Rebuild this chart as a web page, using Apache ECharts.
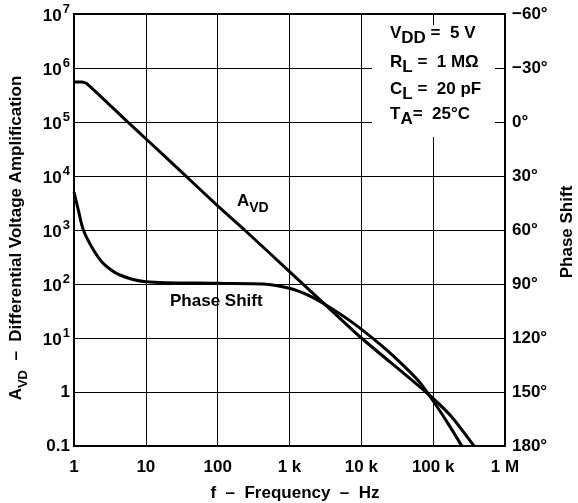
<!DOCTYPE html>
<html>
<head>
<meta charset="utf-8">
<script src="https://cdn.jsdelivr.net/npm/echarts@6/dist/echarts.min.js"></script>
<style>
html,body{margin:0;padding:0;background:#fff;}
#chart{width:578px;height:503px;}
</style>
</head>
<body>
<div id="chart"></div>
<script>
// ---- data ----
const avdFreq = [1, 1.3, 1.55, 5.6, 10, 30, 100, 237, 1000, 3600, 10000, 79000, 178000, 370000];
const avdGain = [5.5e5, 5.5e5, 5.0e5, 1e5, 4.9e4, 1.26e4, 2.8e3, 1e3, 170, 35, 10, 1, 0.355, 0.1];

const phaseFreq = [1, 1.15, 1.35, 1.86, 2.55, 4.36, 10, 95, 426, 1000, 2000, 4000, 7900, 15800, 31600, 63100, 100000, 158000, 251000];
const phaseDeg  = [39, 49, 60, 71, 78.5, 85, 88.7, 89.6, 90, 92.4, 97, 104, 112, 121.5, 132, 144, 155, 167, 180];

const xTickLabels = {0: '1', 1: '10', 2: '100', 3: '1 k', 4: '10 k', 5: '100 k', 6: '1 M'};
const phaseMin = -60, phaseMax = 180, phaseStep = 30;

const FONT = '"Liberation Sans", Arial, Helvetica, sans-serif';
const chart = echarts.init(document.getElementById('chart'), null, {renderer: 'canvas'});

const baseRich = {
  b: {fontSize: 17, fontWeight: 'bold', fontFamily: FONT, color: '#000', verticalAlign: 'bottom'},
  s: {fontSize: 13, fontWeight: 'bold', fontFamily: FONT, color: '#000', verticalAlign: 'bottom', padding: [0, 0, 9, 1]},
  sub: {fontSize: 13, fontWeight: 'bold', fontFamily: FONT, color: '#000', verticalAlign: 'bottom'},
  subBig: {fontSize: 17, fontWeight: 'bold', fontFamily: FONT, color: '#000', verticalAlign: 'bottom'},
  m: {fontSize: 17, fontWeight: 'bold', fontFamily: FONT, color: '#000', verticalAlign: 'bottom', padding: [0, 0, 5, 0]}
};
const condRich = {b: baseRich.m, sub: baseRich.subBig, m: baseRich.m};

function zip(a, b) { return a.map((v, i) => [v, b[i]]); }

const option = {
  animation: false,
  backgroundColor: '#fff',
  grid: {left: 74, right: 73, top: 14, bottom: 57, show: true, borderColor: '#000', borderWidth: 2, backgroundColor: 'transparent'},
  xAxis: {
    type: 'log', logBase: 10, min: 1, max: 1e6, splitNumber: 6,
    axisLine: {show: true, onZero: false, lineStyle: {color: '#000', width: 2}},
    axisTick: {show: false},
    splitLine: {show: true, lineStyle: {color: '#000', width: 1}},
    axisLabel: {
      margin: 13, color: '#000', fontSize: 17, fontWeight: 'bold', fontFamily: FONT,
      formatter: v => { const e = Math.round(Math.log10(v)); return xTickLabels[e] || ''; }
    }
  },
  yAxis: [{
    type: 'log', logBase: 10, min: 0.1, max: 1e7, splitNumber: 8,
    axisLine: {show: true, onZero: false, lineStyle: {color: '#000', width: 2}},
    axisTick: {show: false},
    splitLine: {show: true, lineStyle: {color: '#000', width: 1}},
    axisLabel: {
      margin: 4, color: '#000', fontSize: 17, fontWeight: 'bold', fontFamily: FONT,
      formatter: v => {
        const e = Math.round(Math.log10(v));
        if (e === -1) return '{b|0.1}';
        if (e === 0) return '{b|1}';
        return '{b|10}{s|' + e + '}';
      },
      rich: baseRich
    }
  }, {
    type: 'value', inverse: true, min: phaseMin, max: phaseMax, interval: phaseStep, position: 'right',
    axisLine: {show: true, onZero: false, lineStyle: {color: '#000', width: 2}},
    axisTick: {show: false},
    splitLine: {show: false},
    axisLabel: {
      margin: 7, color: '#000', fontSize: 17, fontWeight: 'bold', fontFamily: FONT,
      formatter: v => (v < 0 ? '\u2212' + Math.abs(v) : v) + '\u00b0'
    }
  }],
  graphic: [
    // blank area behind the conditions block
    {type: 'rect', z: 5, shape: {x: 372, y: 25, width: 123, height: 112}, style: {fill: '#fff'}},
    {type: 'text', z: 6, left: 390, top: 25, style: {text: '{b|V}{sub|DD}{m| =  5 V}', rich: condRich}},
    {type: 'text', z: 6, left: 390, top: 54, style: {text: '{b|R}{sub|L}{m| =  1 M\u03a9}', rich: condRich}},
    {type: 'text', z: 6, left: 390, top: 81, style: {text: '{b|C}{sub|L}{m| =  20 pF}', rich: condRich}},
    {type: 'text', z: 6, left: 390, top: 106, style: {text: '{b|T}{sub|A}{m|=  25\u00b0C}', rich: condRich}},
    // curve labels
    {type: 'text', z: 6, left: 237, top: 193, style: {text: '{b|A}{sub|VD}', rich: {b: baseRich.m, sub: {fontSize: 14, fontWeight: 'bold', fontFamily: FONT, color: '#000', verticalAlign: 'bottom'}}}},
    {type: 'text', z: 6, left: 170, top: 293, style: {text: 'Phase Shift', font: 'bold 17px ' + FONT, fill: '#000'}},
    // axis titles
    {type: 'text', z: 6, x: 19, y: 238, rotation: Math.PI / 2,
      style: {text: '{b|A}{sub|VD}{m|  \u2013  Differential Voltage Amplification}', align: 'center', verticalAlign: 'middle',
        rich: {b: baseRich.m, sub: baseRich.sub, m: baseRich.m}}},
    {type: 'text', z: 6, x: 567, y: 232, rotation: Math.PI / 2,
      style: {text: 'Phase Shift', font: 'bold 17px ' + FONT, fill: '#000', align: 'center', verticalAlign: 'middle'}},
    {type: 'text', z: 6, x: 295, y: 493,
      style: {text: 'f  \u2013  Frequency  \u2013  Hz', font: 'bold 17px ' + FONT, fill: '#000', align: 'center', verticalAlign: 'middle'}}
  ],
  series: [{
    name: 'AVD', type: 'line', yAxisIndex: 0, showSymbol: false, symbol: 'none', smooth: 0.2, z: 3,
    lineStyle: {color: '#000', width: 3},
    data: zip(avdFreq, avdGain)
  }, {
    name: 'Phase Shift', type: 'line', yAxisIndex: 1, showSymbol: false, symbol: 'none', smooth: 0.3, z: 3,
    lineStyle: {color: '#000', width: 3},
    data: zip(phaseFreq, phaseDeg)
  }]
};
chart.setOption(option);
</script>
</body>
</html>
